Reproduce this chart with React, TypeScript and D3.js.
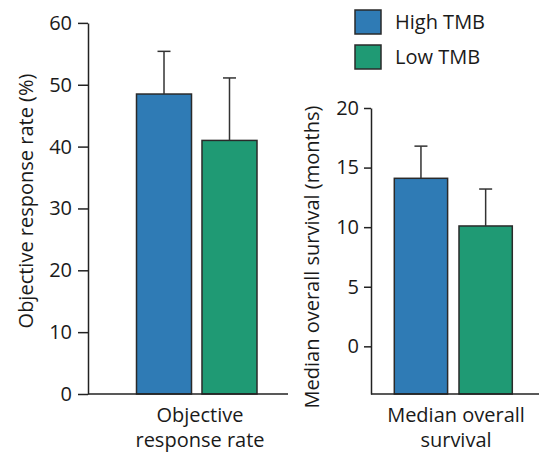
import * as d3 from "d3";
import { useEffect, useRef } from "react";

const groups = ["High TMB", "Low TMB"];
const colors = ["#2f7bb5", "#1f9a74"];

// objective response rate (%)
const ormValues = [48.5, 41.0];
const ormErrTop = [55.4, 51.1];
const ormTicks = [0, 10, 20, 30, 40, 50, 60];

// median overall survival (months)
const osValues = [14.1, 10.1];
const osErrTop = [16.8, 13.2];
const osTicks = [0, 5, 10, 15, 20];

const FONT = "'Open Sans', sans-serif";
const FS = "20px";

const App = () => {
  const ref = useRef<SVGSVGElement>(null);

  useEffect(() => {
    const svg = d3.select(ref.current);
    svg.selectAll("*").remove();

    const drawPanel = (opts: any) => {
      const g = svg.append("g");
      const y = d3.scaleLinear().domain(opts.domain).range([394, opts.top]);
      const x = d3
        .scaleBand()
        .domain(groups)
        .range(opts.band)
        .paddingInner(opts.pad);

      // bars
      g.selectAll("rect.bar")
        .data(opts.values)
        .join("rect")
        .attr("class", "bar")
        .attr("x", (d, i) => x(groups[i]))
        .attr("width", x.bandwidth())
        .attr("y", (d) => y(d as number))
        .attr("height", (d) => y(opts.domain[0]) - y(d as number))
        .attr("fill", (d, i) => colors[i])
        .attr("stroke", "#2a2a2a")
        .attr("stroke-width", 1.5);

      // error bars (upper only)
      opts.err.forEach((e: number, i: number) => {
        const cx = x(groups[i])! + x.bandwidth() / 2;
        g.append("line")
          .attr("x1", cx).attr("x2", cx)
          .attr("y1", y(opts.values[i])).attr("y2", y(e))
          .attr("stroke", "#333").attr("stroke-width", 1.5);
        g.append("line")
          .attr("x1", cx - 6.5).attr("x2", cx + 6.5)
          .attr("y1", y(e)).attr("y2", y(e))
          .attr("stroke", "#333").attr("stroke-width", 1.5);
      });

      // y axis
      const ax = g
        .append("g")
        .attr("transform", `translate(${opts.axisX},0)`)
        .call(
          d3.axisLeft(y)
            .tickValues(opts.ticks)
            .tickSize(opts.tickSize)
            .tickSizeOuter(0)
            .tickPadding(opts.tickPad)
        );
      ax.select(".domain").attr("stroke", "#222").attr("stroke-width", 1.5);
      ax.selectAll(".tick line").attr("stroke", "#222").attr("stroke-width", 1.5);
      ax.selectAll(".tick text")
        .attr("fill", "#1a1a1a")
        .style("font-family", FONT)
        .style("font-size", FS);

      // x baseline
      g.append("line")
        .attr("x1", opts.axisX).attr("x2", opts.baseEnd)
        .attr("y1", 394).attr("y2", 394)
        .attr("stroke", "#222").attr("stroke-width", 1.5);

      // x label (two lines)
      const xl = g.append("text")
        .attr("text-anchor", "middle")
        .attr("fill", "#1a1a1a")
        .style("font-family", FONT)
        .style("font-size", FS);
      opts.xLabel.forEach((t: string, i: number) => {
        xl.append("tspan").attr("x", opts.xLabelX).attr("y", 422 + i * 25).text(t);
      });

      // y label
      g.append("text")
        .attr("transform", `translate(${opts.yLabelX},${opts.yLabelY}) rotate(-90)`)
        .attr("text-anchor", "middle")
        .attr("fill", "#1a1a1a")
        .style("font-family", FONT)
        .style("font-size", FS)
        .text(opts.yLabel);
    };

    drawPanel({
      domain: [0, 60], top: 22.9, band: [136.5, 257], pad: 0.16,
      values: ormValues, err: ormErrTop, ticks: ormTicks,
      axisX: 88, tickSize: 10, tickPad: 6, baseEnd: 288,
      xLabel: ["Objective", "response rate"], xLabelX: 200,
      yLabel: "Objective response rate (%)", yLabelX: 33, yLabelY: 201,
    });

    drawPanel({
      domain: [-4, 20], top: 108, band: [394.3, 512.3], pad: 0.176,
      values: osValues, err: osErrTop, ticks: osTicks,
      axisX: 371, tickSize: 7, tickPad: 5, baseEnd: 539,
      xLabel: ["Median overall", "survival"], xLabelX: 456,
      yLabel: "Median overall survival (months)", yLabelX: 319, yLabelY: 257,
    });

    // legend
    const lg = svg.append("g");
    groups.forEach((name, i) => {
      lg.append("rect")
        .attr("x", 355).attr("y", 10 + i * 35)
        .attr("width", 26).attr("height", 24)
        .attr("fill", colors[i])
        .attr("stroke", "#2a2a2a").attr("stroke-width", 1.5);
      lg.append("text")
        .attr("x", 395).attr("y", 29 + i * 35)
        .attr("fill", "#1a1a1a")
        .style("font-family", FONT)
        .style("font-size", FS)
        .text(name);
    });
  }, []);

  return (
    <div style={{ position: "absolute", left: 0, top: 0 }}>
      <svg ref={ref} width={539} height={453} style={{ display: "block", background: "#fff" }} />
    </div>
  );
};

export default App;
